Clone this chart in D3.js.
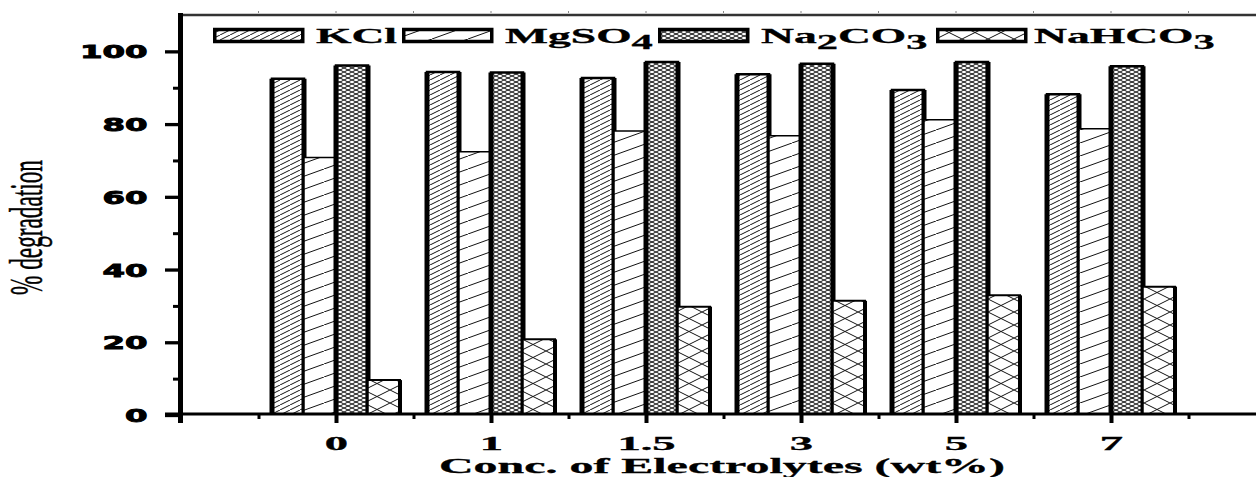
<!DOCTYPE html>
<html><head><meta charset="utf-8">
<script src="https://cdn.jsdelivr.net/npm/d3@7"></script>
<style>html,body{margin:0;padding:0;background:#fff;}svg{display:block;}</style>
</head><body>
<svg id="chart" width="1256" height="477"></svg>
<script>
// ---- data ----
const categories = ["0", "1", "1.5", "3", "5", "7"];
const seriesNames = ["KCl", "MgSO4", "Na2CO3", "NaHCO3"];
const kcl    = [92.5, 94.3, 92.7, 93.7, 89.4, 88.2];
const mgso4  = [70.8, 72.4, 78.1, 76.8, 81.2, 78.7];
const na2co3 = [96.1, 94.2, 97.1, 96.6, 97.1, 95.9];
const nahco3 = [9.6, 20.8, 29.8, 31.4, 32.9, 35.3];
const yTicks = [0, 20, 40, 60, 80, 100];
const yMinorTicks = [10, 30, 50, 70, 90];
const yTitle = "% degradation";
const xTitle = "Conc. of Electrolytes (wt%)";

const values = [kcl, mgso4, na2co3, nahco3];

const svg = d3.select("#chart");
const x = d3.scaleLinear().domain([0, 7]).range([181, 1266]);
const y = d3.scaleLinear().domain([0, 110]).range([415, 15]);
const barW = 32;
const SERIF = "'Liberation Serif','Times New Roman',serif";
const SANS = "'DejaVu Sans',sans-serif";

// ---- patterns ----
const defs = svg.append("defs");
function pat(id, w, h, lines) {
  const p = defs.append("pattern").attr("id", id).attr("patternUnits", "userSpaceOnUse")
    .attr("width", w).attr("height", h);
  p.append("rect").attr("width", w).attr("height", h).attr("fill", "#fff");
  lines.forEach(l => p.append("line").attr("x1", l[0]).attr("y1", l[1]).attr("x2", l[2]).attr("y2", l[3])
    .attr("stroke", "#111").attr("stroke-width", 1));
}
pat("p0", 10, 5, [[0, 5, 10, 0], [-10, 5, 0, 0], [10, 5, 20, 0]]);
pat("p1", 36, 13, [[0, 13, 36, 0], [-36, 13, 0, 0], [36, 13, 72, 0]]);
pat("p2", 8, 4, [[0, 4, 8, 0], [0, 0, 8, 4], [-8, 4, 0, 0], [8, 4, 16, 0], [-8, 0, 0, 4], [8, 0, 16, 4]]);
pat("p3", 26, 13, [[0, 13, 26, 0], [0, 0, 26, 13], [-26, 13, 0, 0], [26, 13, 52, 0], [-26, 0, 0, 13], [26, 0, 52, 13]]);

const barStyle = [
  {pat: "p0", left: 5, right: 5, top: 2.5},
  {pat: "p1", left: 1.5, right: 1.5, top: 1.5},
  {pat: "p2", left: 5, right: 5, top: 2.5},
  {pat: "p3", left: 1.5, right: 4, top: 2}
];

// ---- bars ----
const gBars = svg.append("g");
categories.forEach((c, i) => {
  const cx = x(i + 1);
  values.forEach((vals, j) => {
    const st = barStyle[j];
    const x0 = cx - 2 * barW + j * barW, x1 = x0 + barW;
    const yt = y(vals[i]), yb = y(0);
    gBars.append("rect").attr("x", x0).attr("y", yt).attr("width", barW).attr("height", yb - yt)
      .attr("fill", `url(#${st.pat})`);
    gBars.append("line").attr("x1", x0).attr("x2", x1).attr("y1", yt).attr("y2", yt)
      .attr("stroke", "#000").attr("stroke-width", st.top).attr("stroke-linecap", "square");
    gBars.append("line").attr("x1", x0).attr("x2", x0).attr("y1", yt).attr("y2", yb)
      .attr("stroke", "#000").attr("stroke-width", st.left);
    gBars.append("line").attr("x1", x1).attr("x2", x1).attr("y1", yt).attr("y2", yb)
      .attr("stroke", "#000").attr("stroke-width", st.right);
  });
});

// ---- frame lines ----
svg.append("line").attr("x1", 181).attr("x2", 1256).attr("y1", 15).attr("y2", 15)
  .attr("stroke", "#333").attr("stroke-width", 2.5);
const topMinor = d3.range(0.5, 7, 0.5);
svg.append("g").selectAll("line").data(topMinor).join("line")
  .attr("x1", d => x(d)).attr("x2", d => x(d)).attr("y1", 13).attr("y2", 11)
  .attr("stroke", "#888").attr("stroke-width", 1);

// ---- y axis ----
const yAxisG = svg.append("g").attr("transform", "translate(181,0)");
yAxisG.call(d3.axisLeft(y).tickValues(yMinorTicks).tickSize(8).tickFormat(""))
  .call(g => g.select(".domain").remove())
  .call(g => g.selectAll(".tick line").attr("stroke", "#000").attr("stroke-width", 3));
const yMajor = svg.append("g").attr("transform", "translate(181,0)");
const ySx = 1.8;
yMajor.call(d3.axisLeft(y).tickValues(yTicks).tickSize(16).tickFormat(d3.format("d")))
  .call(g => g.select(".domain").remove())
  .call(g => g.selectAll(".tick line").attr("stroke", "#000").attr("stroke-width", 3.3))
  .call(g => g.selectAll(".tick text")
    .attr("x", -33.5 / ySx).attr("dy", "0.36em")
    .attr("transform", `scale(${ySx},1)`)
    .attr("fill", "#000").attr("stroke", "#000").attr("stroke-width", 0.9)
    .attr("font-family", SANS).attr("font-weight", "bold").attr("font-size", 18));
svg.append("line").attr("x1", 180.5).attr("x2", 180.5).attr("y1", 13).attr("y2", 423)
  .attr("stroke", "#000").attr("stroke-width", 5);

// ---- x axis ----
const xAxisG = svg.append("g").attr("transform", "translate(0,414)");
const minorX = d3.range(0.5, 7, 1);
xAxisG.call(d3.axisBottom(x).tickValues(minorX).tickSize(5).tickFormat(""))
  .call(g => g.select(".domain").remove())
  .call(g => g.selectAll(".tick line").attr("stroke", "#000").attr("stroke-width", 3));
const xSx = 2.45;
const xMajor = svg.append("g").attr("transform", "translate(0,414)");
xMajor.call(d3.axisBottom(x).tickValues(d3.range(1, categories.length + 1)).tickSize(9)
    .tickFormat(d => categories[d - 1]))
  .call(g => g.select(".domain").remove())
  .call(g => g.selectAll(".tick line").attr("stroke", "#000").attr("stroke-width", 4))
  .call(g => g.selectAll(".tick text").attr("y", 36.5).attr("dy", 0)
    .attr("transform", `scale(${xSx},1)`)
    .attr("fill", "#000").attr("stroke", "#000").attr("stroke-width", 0.3)
    .attr("font-family", SERIF).attr("font-weight", "bold").attr("font-size", 19));
svg.append("line").attr("x1", 165).attr("x2", 1256).attr("y1", 414).attr("y2", 414)
  .attr("stroke", "#000").attr("stroke-width", 3);

// ---- titles ----
svg.append("text").attr("x", 722).attr("y", 473).attr("text-anchor", "middle")
  .attr("font-family", SERIF).attr("font-weight", "bold").attr("font-size", 22)
  .attr("stroke", "#000").attr("stroke-width", 0.3)
  .attr("textLength", 566).attr("lengthAdjust", "spacingAndGlyphs").text(xTitle);

svg.append("text").attr("transform", "translate(42,227.5) scale(2.05,1) rotate(-90)")
  .attr("text-anchor", "middle").attr("font-family", SERIF).attr("font-size", 23)
  .attr("stroke", "#000").attr("stroke-width", 0.25)
  .attr("textLength", 135).attr("lengthAdjust", "spacingAndGlyphs").text(yTitle);

// ---- legend ----
const legX = [213, 402, 658, 936];
const legTextX = [316, 505, 761, 1034];
const legG = svg.append("g");
const lSx = 2.12;
seriesNames.forEach((name, j) => {
  legG.append("rect").attr("x", legX[j] + 1.75).attr("y", 29.5).attr("width", 88).attr("height", 12)
    .attr("fill", `url(#${barStyle[j].pat})`).attr("stroke", "#000").attr("stroke-width", 3.5);
  const t = legG.append("text").attr("transform", `translate(${legTextX[j]},42.5) scale(${lSx},1)`)
    .attr("font-family", SERIF).attr("font-weight", "bold").attr("font-size", 21.5)
    .attr("fill", "#000").attr("stroke", "#000").attr("stroke-width", 0.3);
  const parts = name.match(/[A-Za-z]+|\d+/g);
  parts.forEach(p => {
    if (/^\d+$/.test(p)) {
      t.append("tspan").attr("dy", 6).attr("font-size", 20).text(p);
    } else {
      const prevSub = t.selectAll("tspan").size() > 0 && /^\d+$/.test(t.select("tspan:last-child").text());
      t.append("tspan").attr("dy", prevSub ? -6 : 0).text(p);
    }
  });
});
</script>
</body></html>
